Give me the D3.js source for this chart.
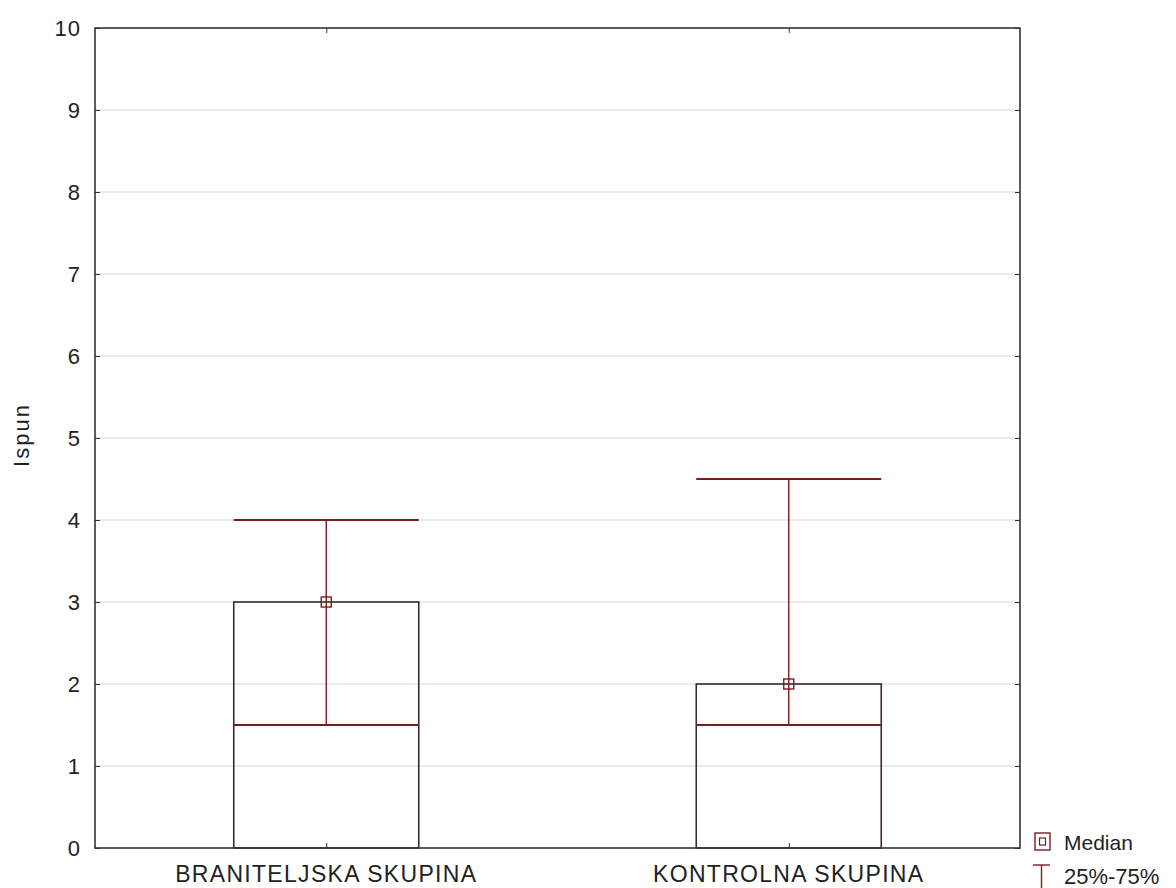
<!DOCTYPE html>
<html><head><meta charset="utf-8">
<script src="https://cdn.jsdelivr.net/npm/d3@7"></script>
<style>body{margin:0;background:#fff}svg{display:block}text{font-family:"Liberation Sans",Arial,sans-serif;fill:#222}</style>
</head><body><svg id="c" width="1176" height="888"></svg>
<script>
const categories = ["BRANITELJSKA SKUPINA", "KONTROLNA SKUPINA"];
const medians = [3, 2];
const q25 = [1.5, 1.5];
const q75 = [4, 4.5];
const yTicks = [0,1,2,3,4,5,6,7,8,9,10];

const svg = d3.select("#c");
const m = {l:95, t:28, r:1020, b:848};
const x = d3.scalePoint().domain(categories).range([m.l, m.r]).padding(0.5);
const y = d3.scaleLinear().domain([0,10]).range([m.b, m.t]);
const boxW = (m.r - m.l) * 0.2;
const boxCol = "#3d2b2b", whCol = "#7a1c1c";

// grid
svg.append("g").selectAll("line").data(yTicks.slice(1,-1)).join("line")
  .attr("x1", m.l).attr("x2", m.r).attr("y1", d=>y(d)).attr("y2", d=>y(d))
  .attr("stroke", "#d6d6d6").attr("stroke-width", 1);

// axes
const yl = svg.append("g").attr("transform", `translate(${m.l},0)`)
  .call(d3.axisRight(y).tickValues(yTicks).tickSize(5).tickFormat(""));
const yr = svg.append("g").attr("transform", `translate(${m.r},0)`)
  .call(d3.axisLeft(y).tickValues(yTicks).tickSize(5).tickFormat(""));
const xb = svg.append("g").attr("transform", `translate(0,${m.b})`)
  .call(d3.axisTop(x).tickSize(5).tickFormat(""));
const xt = svg.append("g").attr("transform", `translate(0,${m.t})`)
  .call(d3.axisBottom(x).tickSize(5).tickFormat(""));
[yl,yr,xb,xt].forEach(g=>{g.select(".domain").remove(); g.selectAll("line").attr("stroke","#333");});

// tick labels
svg.append("g").selectAll("text").data(yTicks).join("text")
  .attr("x", m.l - 14).attr("y", d=>y(d)).attr("dy","0.36em")
  .attr("text-anchor","end").attr("font-size", 22).attr("letter-spacing", 1).text(d=>d);
svg.append("g").selectAll("text").data(categories).join("text")
  .attr("x", d=>x(d)).attr("y", m.b + 34)
  .attr("text-anchor","middle").attr("font-size", 23).attr("letter-spacing", 1.3).text(d=>d);
svg.append("text").attr("transform", `translate(29,${435}) rotate(-90)`)
  .attr("text-anchor","middle").attr("font-size", 22).attr("letter-spacing", 2).text("Ispun");

// boxes (median bars)
const g = svg.append("g");
categories.forEach((c,i)=>{
  const cx = x(c);
  g.append("rect").attr("x", cx-boxW/2).attr("y", y(medians[i]))
    .attr("width", boxW).attr("height", y(0)-y(medians[i]))
    .attr("fill","none").attr("stroke", boxCol).attr("stroke-width", 1.6);
  g.append("line").attr("x1", cx).attr("x2", cx).attr("y1", y(q25[i])).attr("y2", y(q75[i]))
    .attr("stroke", whCol).attr("stroke-width", 1.4);
  [q25[i], q75[i]].forEach(v=>{
    g.append("line").attr("x1", cx-boxW/2).attr("x2", cx+boxW/2).attr("y1", y(v)).attr("y2", y(v))
      .attr("stroke", whCol).attr("stroke-width", 2);
  });
  g.append("rect").attr("x", cx-5).attr("y", y(medians[i])-5).attr("width",10).attr("height",10)
    .attr("fill","none").attr("stroke", whCol).attr("stroke-width", 1.4);
});

// frame
svg.append("rect").attr("x", m.l).attr("y", m.t).attr("width", m.r-m.l).attr("height", m.b-m.t)
  .attr("fill","none").attr("stroke","#333").attr("stroke-width",1.6);

// legend
const lg = svg.append("g");
lg.append("rect").attr("x",1035).attr("y",833).attr("width",15).attr("height",17)
  .attr("fill","none").attr("stroke",whCol).attr("stroke-width",1.4);
lg.append("rect").attr("x",1039.5).attr("y",838).attr("width",6).attr("height",7)
  .attr("fill","none").attr("stroke",whCol).attr("stroke-width",1.2);
lg.append("text").attr("x",1064).attr("y",850).attr("font-size",21).text("Median");
lg.append("line").attr("x1",1033).attr("x2",1050).attr("y1",865).attr("y2",865).attr("stroke",whCol).attr("stroke-width",1.4);
lg.append("line").attr("x1",1041.5).attr("x2",1041.5).attr("y1",865).attr("y2",888).attr("stroke",whCol).attr("stroke-width",1.4);
lg.append("text").attr("x",1064).attr("y",884).attr("font-size",22).text("25%-75%");
</script></body></html>
